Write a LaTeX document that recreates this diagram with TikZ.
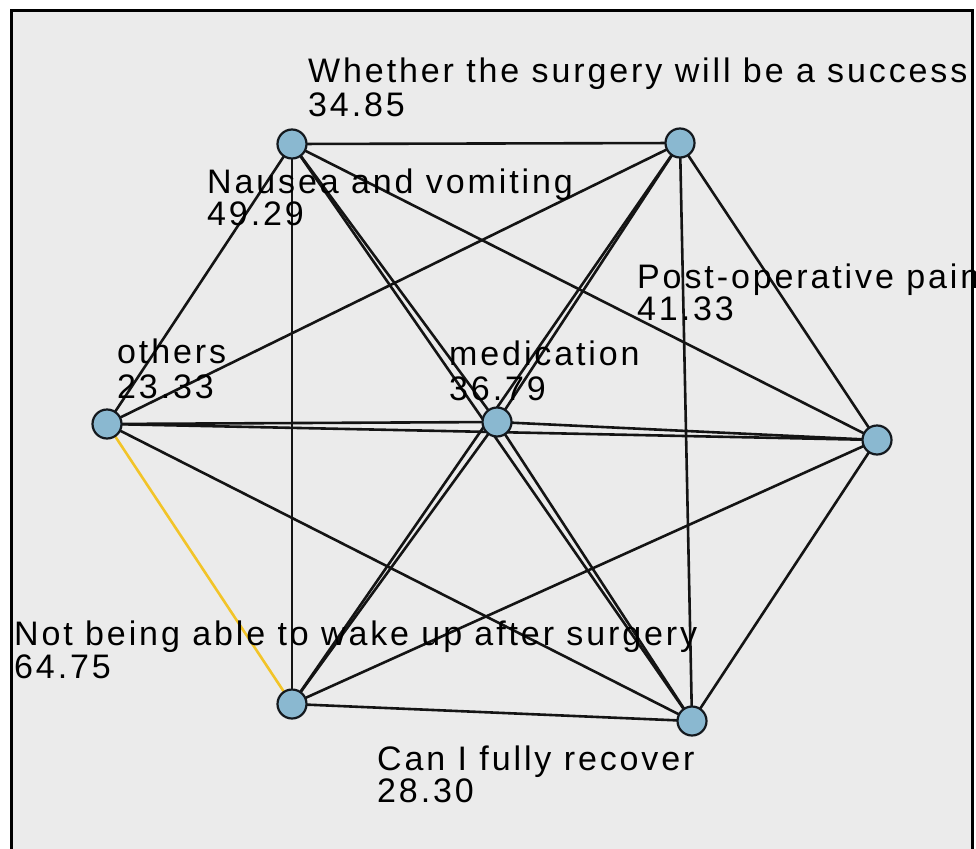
\documentclass[tikz,border=0pt]{standalone}
\usepackage{fontspec}
\newfontfamily\labfont{Liberation Sans}[LetterSpace=8.5]
\definecolor{bgc}{RGB}{235,235,235}
\definecolor{nodefill}{RGB}{138,184,208}
\definecolor{nodeline}{RGB}{20,25,30}
\definecolor{edgec}{RGB}{20,20,20}
\definecolor{yel}{RGB}{242,196,40}
\tikzset{
  vert/.style={circle, fill=nodefill, draw=nodeline, line width=2.2pt, minimum size=29pt, inner sep=0pt},
  lab/.style={anchor=base west, inner sep=0pt, font=\labfont\fontsize{34}{40}\selectfont, text=black},
  edge/.style={draw=edgec, line width=2.6pt},
  yedge/.style={draw=yel, line width=2.6pt}
}
\begin{document}
\begin{tikzpicture}[x=1pt,y=-1pt]
\useasboundingbox (0,0) rectangle (976,848);
\clip (0,0) rectangle (976,848);
\fill[white] (0,0) rectangle (976,848);
\draw[line width=3pt, fill=bgc] (11.5,11) rectangle (972,880);
% node centres
\coordinate (A) at (292,144);
\coordinate (B) at (680,143);
\coordinate (C) at (877,440);
\coordinate (D) at (497,422);
\coordinate (E) at (107,424);
\coordinate (F) at (292,704);
\coordinate (G) at (692,721);
% edges
\foreach \a/\b in {A/B,A/C,A/D,A/E,A/F,A/G,
                   B/C,B/D,B/E,B/F,B/G,
                   C/D,C/E,C/F,C/G,
                   D/E,D/F,D/G,
                   E/G,F/G}
  \draw[edge] (\a) -- (\b);
\draw[yedge] (E) -- (F);
% nodes
\node[vert] (nA) at (A) {};
\node[vert] (nB) at (B) {};
\node[vert] (nC) at (C) {};
\node[vert] (nD) at (D) {};
\node[vert] (nE) at (E) {};
\node[vert] (nF) at (F) {};
\node[vert] (nG) at (G) {};
% labels
\node[lab] (lA1) at (308,83) {Whether the surgery will be a success};
\node[lab] (lA2) at (308,117) {34.85};
\node[lab] (lB1) at (207,193) {Nausea and vomiting};
\node[lab] (lB2) at (207,225) {49.29};
\node[lab] (lC1) at (637,288) {Post-operative pain};
\node[lab] (lC2) at (637,320) {41.33};
\node[lab] (lE1) at (117,363) {others};
\node[lab] (lE2) at (117,398) {23.33};
\node[lab] (lD1) at (449,365) {medication};
\node[lab] (lD2) at (449,400) {36.79};
\node[lab] (lF1) at (14,645) {Not being able to wake up after surgery};
\node[lab] (lF2) at (14,678) {64.75};
\node[lab] (lG1) at (377,770) {Can I fully recover};
\node[lab] (lG2) at (377,802) {28.30};
% frame right edge on top of text
\draw[line width=3pt] (972,11) -- (972,880);
\end{tikzpicture}
\end{document}
